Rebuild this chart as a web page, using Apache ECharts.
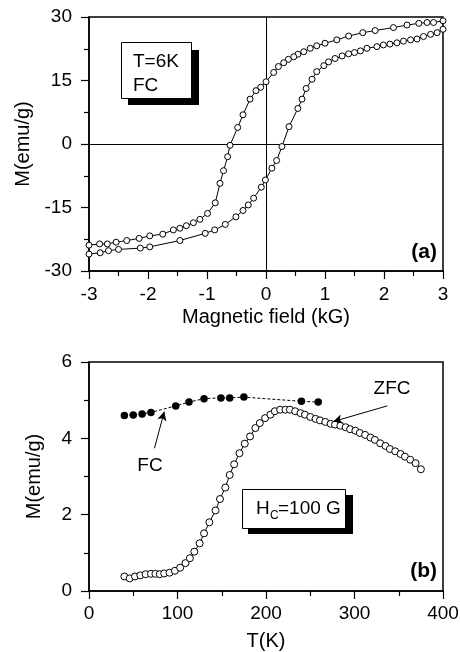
<!DOCTYPE html>
<html lang="en">
<head>
    <meta charset="UTF-8">
    <title>M-H loop and ZFC/FC</title>
    <script src="https://cdn.jsdelivr.net/npm/echarts@6/dist/echarts.min.js"></script>
    <style>
        body {
            margin: 0;
            padding: 0;
            background: #fff;
        }

        #box {
            width: 460px;
            height: 652px;
        }
    </style>
</head>
<body>
<div id="box"></div>
<script>
    // (a) hysteresis loop, T=6K FC
    var fieldDown = [3.0, 2.84, 2.73, 2.59, 2.39, 2.16, 1.85, 1.64, 1.40, 1.20, 1.00, 0.86, 0.75, 0.64, 0.54, 0.47, 0.38, 0.30, 0.21, 0.13, 0.0, -0.09, -0.17, -0.27, -0.39, -0.48, -0.61, -0.65, -0.72, -0.78, -0.86, -0.99, -1.12, -1.23, -1.35, -1.46, -1.57, -1.75, -1.97, -2.15, -2.36, -2.54, -2.69, -2.82, -3.0];
    var momentDown = [29.1, 28.7, 28.7, 28.5, 28.1, 27.5, 26.8, 26.3, 25.5, 24.6, 23.8, 23.2, 22.6, 21.8, 21.2, 20.6, 20.0, 19.2, 18.3, 16.9, 14.7, 13.4, 12.6, 10.6, 6.9, 3.9, -0.3, -3.0, -6.3, -9.3, -13.9, -16.4, -17.8, -18.6, -19.3, -19.9, -20.3, -21.3, -21.7, -22.3, -22.8, -23.2, -23.6, -23.6, -23.9];
    var fieldUp = [-3.0, -2.81, -2.67, -2.50, -2.13, -1.97, -1.46, -1.03, -0.87, -0.69, -0.51, -0.39, -0.30, -0.21, -0.08, -0.01, 0.10, 0.18, 0.27, 0.39, 0.54, 0.61, 0.68, 0.78, 0.86, 0.98, 1.06, 1.17, 1.29, 1.40, 1.50, 1.60, 1.71, 1.88, 1.99, 2.10, 2.22, 2.33, 2.45, 2.56, 2.67, 2.79, 2.90, 3.0];
    var momentUp = [-26.0, -25.7, -25.2, -24.9, -24.6, -24.3, -22.8, -21.1, -20.3, -19.0, -17.2, -15.7, -14.4, -12.8, -10.2, -8.5, -5.7, -3.9, -0.6, 4.1, 8.4, 10.6, 13.1, 15.3, 17.1, 18.5, 19.4, 20.2, 20.8, 21.3, 21.6, 22.0, 22.6, 23.0, 23.4, 23.6, 23.9, 24.3, 24.6, 24.8, 25.4, 25.9, 26.3, 27.1];

    // (b) M vs T, H=100 G
    var tempFC = [40, 50, 60, 70, 98, 113, 130, 149, 159, 175, 240, 259];
    var momentFC = [4.60, 4.61, 4.64, 4.68, 4.85, 4.95, 5.04, 5.06, 5.06, 5.08, 4.97, 4.95];
    var tempZFC = [40, 46, 52, 58, 64, 70, 75, 80, 85, 91, 97, 103, 109, 114, 119, 125, 130, 136, 143, 148, 154, 159, 164, 170, 176, 182, 188, 193, 199, 205, 210, 216, 222, 227, 233, 239, 244, 250, 256, 261, 267, 273, 278, 284, 290, 295, 301, 306, 312, 318, 323, 329, 335, 340, 346, 352, 357, 363, 369, 375];
    var momentZFC = [0.38, 0.33, 0.38, 0.41, 0.44, 0.45, 0.45, 0.44, 0.46, 0.48, 0.53, 0.61, 0.73, 0.86, 1.03, 1.25, 1.51, 1.80, 2.11, 2.41, 2.71, 3.04, 3.32, 3.61, 3.86, 4.05, 4.27, 4.40, 4.53, 4.62, 4.71, 4.75, 4.75, 4.75, 4.71, 4.66, 4.62, 4.56, 4.51, 4.47, 4.43, 4.38, 4.36, 4.33, 4.29, 4.24, 4.20, 4.14, 4.09, 4.02, 3.96, 3.87, 3.80, 3.72, 3.66, 3.59, 3.52, 3.44, 3.35, 3.19];

    // annotation arrows (data coords of bottom panel)
    var arrowZFC = [[337, 4.85], [276, 4.44]];
    var arrowFC = [[74, 3.74], [85, 4.70]];

    function zip(xs, ys) {
        return xs.map(function (x, i) { return [x, ys[i]]; });
    }

    var font = 'Liberation Sans, Arial, sans-serif';
    var black = '#000';

    function axisBase(extra) {
        var a = {
            type: 'value',
            axisLine: {show: true, onZero: false, lineStyle: {color: black, width: 1.5}},
            axisTick: {show: true, inside: false, length: 8, lineStyle: {color: black, width: 1.2}},
            minorTick: {show: true, splitNumber: 2, length: 5, lineStyle: {color: black, width: 1.2}},
            splitLine: {show: false},
            minorSplitLine: {show: false},
            nameLocation: 'middle',
            nameTextStyle: {color: black, fontSize: 20, fontFamily: font}
        };
        for (var k in extra) a[k] = extra[k];
        return a;
    }

    function tickLabels(margin) {
        return {color: black, fontSize: 19, fontFamily: font, margin: margin, showMinLabel: true, showMaxLabel: true};
    }

    var openCircle = {color: '#fff', borderColor: black, borderWidth: 1};

    var option = {
        animation: false,
        backgroundColor: '#fff',
        grid: [
            {left: 89, right: 17, top: 17, bottom: 381, show: true, borderColor: black, borderWidth: 1.5, backgroundColor: 'transparent', outerBoundsMode: 'none'},
            {left: 89, right: 17, top: 362, bottom: 61, show: true, borderColor: black, borderWidth: 1.5, backgroundColor: 'transparent', outerBoundsMode: 'none'}
        ],
        xAxis: [
            axisBase({gridIndex: 0, min: -3, max: 3, interval: 1, name: 'Magnetic field (kG)', nameGap: 36, axisLabel: tickLabels(14)}),
            axisBase({gridIndex: 1, min: 0, max: 400, interval: 100, name: 'T(K)', nameGap: 40, axisLabel: tickLabels(13)})
        ],
        yAxis: [
            axisBase({gridIndex: 0, min: -30, max: 30, interval: 15, name: 'M(emu/g)', nameGap: 45, axisLabel: tickLabels(17)}),
            axisBase({gridIndex: 1, min: 0, max: 6, interval: 2, name: 'M(emu/g)', nameGap: 45, axisLabel: tickLabels(17)})
        ],
        series: [
            {
                type: 'line',
                xAxisIndex: 0, yAxisIndex: 0,
                data: zip(fieldDown, momentDown),
                symbol: 'circle', symbolSize: 6, showAllSymbol: true,
                itemStyle: openCircle,
                lineStyle: {color: black, width: 1},
                z: 3,
                markLine: {
                    silent: true,
                    symbol: 'none',
                    label: {show: false},
                    lineStyle: {color: black, width: 1, type: 'solid'},
                    data: [{xAxis: 0}, {yAxis: 0}],
                    z: 1
                }
            },
            {
                type: 'line',
                xAxisIndex: 0, yAxisIndex: 0,
                data: zip(fieldUp, momentUp),
                symbol: 'circle', symbolSize: 6, showAllSymbol: true,
                itemStyle: openCircle,
                lineStyle: {color: black, width: 1},
                z: 3
            },
            {
                type: 'line',
                xAxisIndex: 1, yAxisIndex: 1,
                data: zip(tempFC, momentFC),
                symbol: 'circle', symbolSize: 7.5, showAllSymbol: true,
                itemStyle: {color: black},
                lineStyle: {color: black, width: 1, type: [3, 2]},
                markLine: {
                    silent: true,
                    symbol: ['none', 'arrow'],
                    symbolSize: [7, 9],
                    label: {show: false},
                    lineStyle: {color: black, width: 1, type: 'solid'},
                    data: [[{coord: arrowFC[0]}, {coord: arrowFC[1]}]]
                }
            },
            {
                type: 'line',
                xAxisIndex: 1, yAxisIndex: 1,
                data: zip(tempZFC, momentZFC),
                symbol: 'circle', symbolSize: 7, showAllSymbol: true,
                itemStyle: openCircle,
                lineStyle: {color: black, width: 1},
                markLine: {
                    silent: true,
                    symbol: ['none', 'arrow'],
                    symbolSize: [7, 9],
                    label: {show: false},
                    lineStyle: {color: black, width: 1, type: 'solid'},
                    data: [[{coord: arrowZFC[0]}, {coord: arrowZFC[1]}]]
                }
            }
        ],
        graphic: [
            // T=6K FC box with shadow
            {type: 'rect', shape: {x: 128, y: 50, width: 71, height: 55}, style: {fill: black}, z: 10},
            {type: 'rect', shape: {x: 121.5, y: 42.5, width: 70, height: 56}, style: {fill: '#fff', stroke: black, lineWidth: 1}, z: 11},
            {type: 'text', x: 133, y: 62, style: {text: 'T=6K', fill: black, font: '19px ' + font, verticalAlign: 'middle'}, z: 12},
            {type: 'text', x: 133, y: 86, style: {text: 'FC', fill: black, font: '19px ' + font, verticalAlign: 'middle'}, z: 12},
            {type: 'text', x: 437, y: 252, style: {text: '(a)', fill: black, font: 'bold 21px ' + font, align: 'right', verticalAlign: 'middle'}, z: 12},

            // H_C box with shadow
            {type: 'rect', shape: {x: 248, y: 495, width: 105, height: 39}, style: {fill: black}, z: 10},
            {type: 'rect', shape: {x: 242.5, y: 489.5, width: 103, height: 39}, style: {fill: '#fff', stroke: black, lineWidth: 1}, z: 11},
            {type: 'text', x: 256, y: 509, style: {text: 'H', fill: black, font: '19px ' + font, verticalAlign: 'middle'}, z: 12},
            {type: 'text', x: 270, y: 516, style: {text: 'C', fill: black, font: '12px ' + font, verticalAlign: 'middle'}, z: 12},
            {type: 'text', x: 278, y: 509, style: {text: '=100 G', fill: black, font: '19px ' + font, verticalAlign: 'middle'}, z: 12},
            {type: 'text', x: 437, y: 571, style: {text: '(b)', fill: black, font: 'bold 21px ' + font, align: 'right', verticalAlign: 'middle'}, z: 12},

            // curve labels
            {type: 'text', x: 392, y: 389, style: {text: 'ZFC', fill: black, font: '19px ' + font, align: 'center', verticalAlign: 'middle'}, z: 12},
            {type: 'text', x: 150, y: 466, style: {text: 'FC', fill: black, font: '19px ' + font, align: 'center', verticalAlign: 'middle'}, z: 12}
        ]
    };

    var myChart = echarts.init(document.getElementById('box'));
    myChart.setOption(option);
</script>
</body>
</html>
